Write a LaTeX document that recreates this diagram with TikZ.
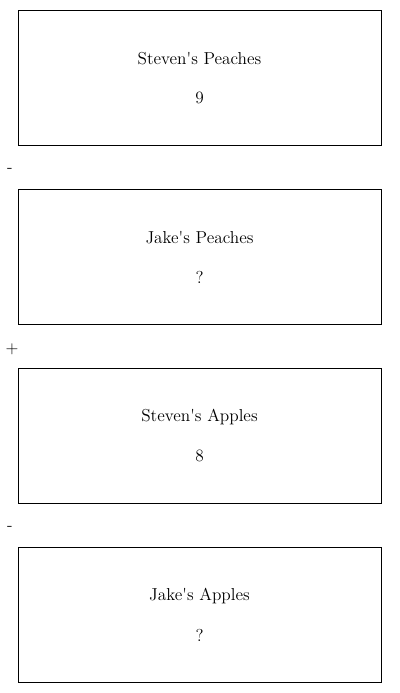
\documentclass[tikz,border=0pt]{standalone}
\usepackage{tikz}
\usetikzlibrary{calc}
\tikzset{
  box/.style = {draw, line width=0.6pt, minimum width=9.075cm, minimum height=3.375cm, inner sep=0pt},
  lbl/.style = {font=\fontsize{12.3}{14}\selectfont, inner sep=0pt},
  sign/.style = {font=\fontsize{12}{14}\selectfont, inner sep=0pt}
}

\begin{document}
\begin{tikzpicture}[x=0.025cm, y=-0.025cm]
  \useasboundingbox (0,0) rectangle (400,693);
  % boxes
  \node[box] (A) at (199.5,77.5) {};
  \node[box] (B) at (199.5,256.5) {};
  \node[box] (C) at (199.5,435.5) {};
  \node[box] (D) at (199.5,614.5) {};
  % texts
  \node[lbl] (Atitle) at ($(A.center)+(0,-18.5)$) {Steven\textquotesingle s Peaches};
  \node[lbl] (Anum) at ($(A.center)+(0,20.5)$) {9};
  \node[lbl] (Btitle) at ($(B.center)+(0,-18.5)$) {Jake\textquotesingle s Peaches};
  \node[lbl] (Bnum) at ($(B.center)+(0,20.5)$) {?};
  \node[lbl] (Ctitle) at ($(C.center)+(0,-18.5)$) {Steven\textquotesingle s Apples};
  \node[lbl] (Cnum) at ($(C.center)+(0,20.5)$) {8};
  \node[lbl] (Dtitle) at ($(D.center)+(0,-18.5)$) {Jake\textquotesingle s Apples};
  \node[lbl] (Dnum) at ($(D.center)+(0,20.5)$) {?};
  % signs
  \node[sign] (s1) at (10,170) {-};
  \node[sign] (s2) at (12,349) {+};
  \node[sign] (s3) at (10,528) {-};
\end{tikzpicture}
\end{document}
